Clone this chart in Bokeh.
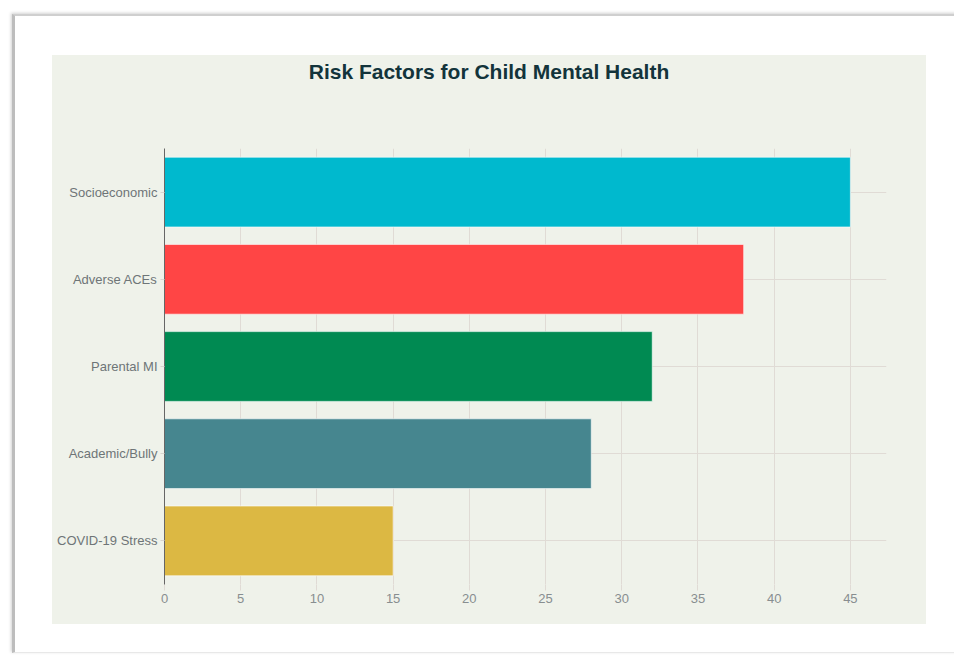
from bokeh.plotting import figure
from bokeh.models import ColumnDataSource, FactorRange, Range1d, Div
from bokeh.layouts import column
from bokeh.embed import file_html
from bokeh.resources import INLINE

title_text = "Risk Factors for Child Mental Health"
categories = ["Socioeconomic", "Adverse ACEs", "Parental MI", "Academic/Bully", "COVID-19 Stress"]
values = [45, 38, 32, 28, 15]
colors = ["#00B9CE", "#FF4545", "#008A52", "#46868F", "#DCB843"]
x_ticks = [0, 5, 10, 15, 20, 25, 30, 35, 40, 45]
x_max = 47.37

PANEL = "#EFF2EA"
src = ColumnDataSource(dict(cat=categories, val=values, color=colors))

title = Div(
    text=title_text, width=874, height=93, margin=(0, 0, 0, 0),
    styles={
        "background-color": PANEL,
        "font-family": "Liberation Sans",
        "font-size": "21px",
        "font-weight": "bold",
        "color": "#13343B",
        "text-align": "center",
        "padding-top": "2px",
        "box-sizing": "border-box",
    },
)

p = figure(
    width=874, height=476,
    y_range=FactorRange(factors=list(reversed(categories))),
    x_range=Range1d(0, x_max),
    output_backend="svg", toolbar_location=None,
    min_border_left=112, min_border_right=40, min_border_top=0, min_border_bottom=40,
    background_fill_color=PANEL, border_fill_color=PANEL,
    outline_line_color=None,
    margin=(0, 0, 0, 0),
)

p.hbar(y="cat", right="val", left=0, height=0.8, source=src,
       fill_color="color", line_color="white", line_alpha=0.6, line_width=1)

p.xgrid.grid_line_color = "#E0DBD5"
p.ygrid.grid_line_color = "#E0DBD5"
p.xaxis.ticker = x_ticks
p.xaxis.axis_line_color = None
p.xaxis.major_tick_line_color = "#E0DBD5"
p.xaxis.major_tick_out = 6
p.xaxis.major_tick_in = 0
p.xaxis.minor_tick_line_color = None
p.xaxis.major_label_standoff = 3
p.xaxis.major_label_text_font = "Liberation Sans"
p.xaxis.major_label_text_font_size = "13px"
p.xaxis.major_label_text_color = "#888E90"

p.yaxis.axis_line_color = "#666666"
p.yaxis.major_tick_line_color = "#D8D4CF"
p.yaxis.major_tick_out = 4
p.yaxis.major_tick_in = 0
p.yaxis.major_label_standoff = 3
p.yaxis.major_label_text_font = "Liberation Sans"
p.yaxis.major_label_text_font_size = "13px"
p.yaxis.major_label_text_color = "#6E7577"

panel = column(
    title, p, width=874, height=569, margin=(39, 0, 0, 37), spacing=0,
    styles={"background-color": PANEL},
)

frame = column(
    panel, width=960, height=639, margin=(14, 0, 0, 12), spacing=0,
    styles={
        "background-color": "white",
        "border-top": "2px solid #CFCFCF",
        "border-left": "3px solid #BDBDBD",
        "border-bottom": "1px solid #E8E8E8",
        "box-shadow": "-1px -1px 3px rgba(0,0,0,0.18)",
        "box-sizing": "border-box",
    },
)

open("out.html", "w").write(file_html(frame, INLINE))
